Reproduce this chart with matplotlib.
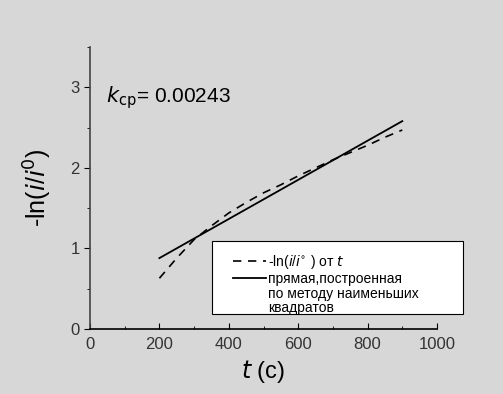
import numpy as np
import matplotlib.pyplot as plt
from matplotlib.lines import Line2D
from matplotlib.patches import Rectangle
from matplotlib.ticker import MultipleLocator

# measured -ln(i/i0) vs t
t_data = [200, 250, 300, 350, 400, 450, 500, 550, 600, 650, 700, 750, 800, 850, 900]
y_data = [0.63, 0.88, 1.11, 1.28, 1.44, 1.57, 1.69, 1.79, 1.90, 2.00, 2.10, 2.19, 2.28, 2.38, 2.47]

# least-squares line end points
t_fit = [200, 900]
y_fit = [0.88, 2.58]

bg = "#d7d7d7"
plt.rcParams["font.family"] = ["Liberation Sans", "DejaVu Sans"]

fig = plt.figure(figsize=(5.03, 3.94), dpi=100, facecolor=bg)
ax = fig.add_axes([90 / 503, 65 / 394, 347 / 503, 282 / 394])
ax.set_facecolor(bg)

l1, = ax.plot(t_data, y_data, color="black", lw=1.2, ls=(0, (5, 4)))
l2, = ax.plot(t_fit, y_fit, color="black", lw=1.3)

ax.set_xlim(0, 1000)
ax.set_ylim(0, 3.5)
ax.xaxis.set_major_locator(MultipleLocator(200))
ax.xaxis.set_minor_locator(MultipleLocator(100))
ax.yaxis.set_major_locator(MultipleLocator(1))
ax.yaxis.set_minor_locator(MultipleLocator(0.5))

for s in ["top", "right"]:
    ax.spines[s].set_visible(False)
ax.spines["left"].set_color("#444444")
ax.spines["left"].set_linewidth(1.2)
ax.spines["bottom"].set_linewidth(1.2)

ax.tick_params(axis="x", which="major", direction="in", length=4, labelsize=12,
               labelcolor="#333333", pad=6)
ax.tick_params(axis="x", which="minor", direction="in", length=2)
ax.tick_params(axis="y", which="major", direction="out", length=4, labelsize=12,
               labelcolor="#333333")
ax.tick_params(axis="y", which="minor", direction="out", length=2)

ax.set_xlabel(r"$\it{t}$ (с)", fontsize=17, labelpad=4)
ax.set_ylabel(r"-ln($\it{i}$/$\it{i}$$^{0}$)", fontsize=18, labelpad=12)

ax.text(46, 2.87, r"$\it{k}$$_{\rm cp}$= 0.00243", fontsize=15, va="center")

# legend box (white frame that sticks out past the axes)
box = Rectangle((212 / 503, 1 - 314 / 394), 251 / 503, 73 / 394,
                transform=fig.transFigure, facecolor="white",
                edgecolor="black", lw=0.8, zorder=4, clip_on=False)
ax.add_patch(box)

blank = Line2D([], [], color="none")
handles = [l1, l2, blank]
labels = [r"-ln($\it{i}$/$\it{i}$$^{\circ}$ ) от $\it{t}$",
          "прямая,построенная",
          "по методу наименьших\nквадратов"]
leg = ax.legend(handles, labels, loc="upper left",
                bbox_to_anchor=(233 / 503, 1 - 253 / 394),
                bbox_transform=fig.transFigure, fontsize=10,
                frameon=False, handlelength=2.4,
                borderpad=0, labelspacing=0.08, handletextpad=0.1,
                borderaxespad=0)
leg.set_zorder(6)
leg.get_texts()[2].set_linespacing(1.0)

fig.savefig("out.png", dpi=100, facecolor=bg)
